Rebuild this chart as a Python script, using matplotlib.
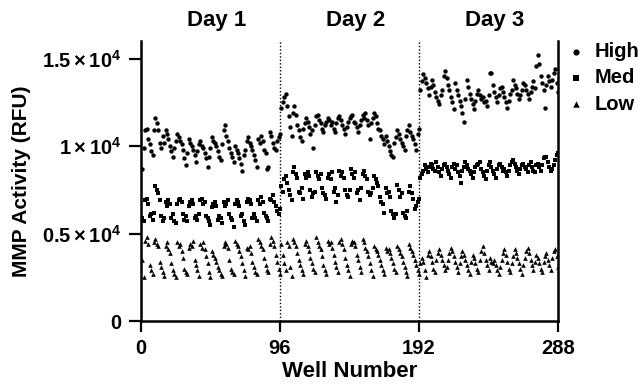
import numpy as np
import matplotlib
matplotlib.use("Agg")
import matplotlib.pyplot as plt
from matplotlib.transforms import blended_transform_factory

# MMP activity (RFU) per well, one list per series per day
high_day1 = [8700, 9900, 10900, 11000, 10400, 10100, 9700, 9500,
             10900, 11600, 11300, 10900, 10200, 9900, 10600, 10200,
             10900, 10700, 10400, 10000, 9700, 9400, 9900, 10300,
             10700, 10500, 10300, 10100, 9800, 9300, 8900, 9600,
             10400, 10200, 10000, 9800, 9500, 9100, 9700, 10100,
             10300, 10000, 9900, 9600, 9300, 8800, 9400, 9900,
             10500, 10300, 10200, 10000, 9700, 9400, 9200, 10100,
             10900, 11200, 10600, 10300, 9900, 9600, 9400, 9100,
             10000, 9800, 9600, 9300, 9000, 8600, 9500, 9800,
             10300, 10500, 10200, 10000, 9800, 9500, 9200, 8800,
             10400, 10200, 10600, 10300, 9800, 9600, 8700, 8800,
             10800, 10600, 10200, 9900, 9800, 10300, 10500, 10700]
high_day2 = [12200, 12500, 12800, 13000, 12300, 11700, 11100, 10600,
             11900, 12300, 11800, 11200, 10900, 10500, 10300, 11000,
             11300, 11600, 11400, 11100, 10700, 10900, 9900, 11200,
             11700, 11800, 11500, 11300, 11000, 10800, 11200, 11400,
             11600, 11500, 11200, 11400, 11000, 10800, 11300, 11600,
             11700, 11500, 11200, 11000, 10700, 11100, 11400, 11600,
             11700, 11800, 11400, 11300, 11100, 10800, 11200, 11500,
             11800, 11600, 11900, 11500, 11200, 10400, 11300, 11600,
             11900, 11700, 11300, 11000, 10900, 10600, 10400, 10100,
             10600, 10300, 10000, 9700, 9500, 9400, 10200, 10500,
             10900, 10700, 10400, 10200, 10000, 9800, 10600, 10900,
             11200, 10800, 10600, 10400, 10100, 9800, 10700, 11000]
high_day3 = [13200, 13700, 14100, 13900, 13600, 13300, 12900, 13400,
             13800, 13500, 13100, 12800, 12600, 12400, 12900, 13200,
             14000, 14300, 13900, 13500, 13200, 12800, 12500, 12100,
             13600, 13200, 12900, 12600, 12300, 11900, 11400, 12700,
             13800, 13400, 13000, 12700, 12400, 12100, 12600, 13000,
             13200, 12900, 12700, 12800, 12500, 12600, 12300, 12900,
             14200, 14200, 13500, 13100, 12800, 12500, 12900, 13300,
             13400, 13100, 12800, 12500, 12200, 12600, 13000, 13200,
             13800, 13500, 13300, 13000, 12700, 12900, 13200, 13600,
             13500, 13200, 13000, 12700, 13100, 13400, 13700, 13300,
             14600, 15200, 14700, 14000, 13600, 13200, 12200, 13500,
             14000, 13700, 13400, 13800, 14200, 14400, 13600, 13100]

med_day1 = [5900, 5700, 6900, 7000, 6700, 6000, 6100, 5800,
            6200, 7700, 7500, 7300, 6900, 6000, 5700, 5900,
            6800, 6600, 6900, 6700, 5900, 6100, 5700, 5600,
            6700, 6900, 7000, 6800, 6100, 5800, 6000, 5700,
            6600, 6800, 6900, 6700, 5900, 6000, 5800, 6100,
            6900, 7000, 6700, 6800, 6000, 5900, 5700, 5500,
            6500, 6700, 6800, 6600, 5800, 6000, 5900, 5600,
            6800, 6600, 6700, 6900, 6100, 5900, 5800, 5400,
            6700, 6900, 6800, 6600, 6000, 6100, 5700, 5500,
            6800, 7000, 6900, 6700, 5900, 6100, 5900, 5700,
            6900, 6700, 7100, 6800, 6200, 6000, 5900, 5700,
            7000, 6900, 7200, 6800, 6600, 6300, 6100, 6400]
med_day2 = [7700, 7400, 8100, 8300, 7900, 7500, 7200, 6900,
            8500, 8800, 8400, 8200, 7400, 7300, 7600, 7000,
            8400, 8200, 8500, 8300, 7500, 7100, 7300, 7400,
            8500, 8300, 8100, 8400, 7600, 7300, 7200, 7000,
            8200, 8400, 8100, 8500, 7400, 7600, 6800, 7200,
            8600, 8300, 8500, 8200, 7500, 7200, 7100, 7500,
            8700, 8400, 8200, 8500, 7300, 7500, 6900, 7600,
            8400, 8600, 8300, 8100, 7400, 7200, 7300, 7600,
            8300, 8100, 7900, 7700, 7100, 6800, 6700, 6200,
            7600, 7300, 7400, 7100, 6300, 6100, 5900, 6100,
            7800, 7500, 7100, 7300, 6200, 6000, 5900, 6300,
            7400, 7700, 7300, 7000, 6400, 6600, 6800, 7000]
med_day3 = [8200, 8400, 8600, 8900, 8700, 8500, 8800, 9000,
            8900, 8700, 8600, 9100, 8800, 8500, 8300, 8700,
            8900, 9000, 8800, 8600, 8400, 8200, 8800, 9000,
            8700, 8900, 8500, 8300, 7900, 8600, 8800, 9100,
            8900, 8700, 8600, 8400, 8200, 8500, 8800, 8900,
            9000, 9100, 8700, 8500, 8300, 8100, 8600, 8900,
            9100, 8800, 8600, 8400, 8200, 8700, 8900, 9000,
            8800, 8600, 8700, 8500, 8300, 8600, 8900, 9100,
            9200, 9000, 8800, 8600, 8400, 8700, 8900, 9000,
            8800, 8700, 8500, 8900, 9100, 8800, 8600, 8500,
            8900, 9000, 8800, 8600, 8900, 9300, 9400, 9400,
            9100, 8800, 8600, 8700, 8900, 9200, 9500, 9600]

low_day1 = [3500, 2500, 4600, 4800, 4400, 3200, 2900, 2700,
            4500, 4700, 4400, 4300, 3400, 3100, 2800, 2600,
            4300, 4500, 4100, 3900, 3300, 2900, 2700, 2500,
            4500, 4300, 4400, 4000, 3600, 3000, 2800, 2700,
            4200, 4400, 4300, 4600, 3500, 3200, 2900, 2600,
            4400, 4200, 4500, 4100, 3700, 3300, 2800, 2500,
            4000, 3800, 3600, 3400, 3100, 2900, 2700, 2600,
            4300, 4500, 4400, 4200, 3500, 3000, 2800, 2700,
            4600, 4400, 4300, 4000, 3700, 3300, 2900, 2600,
            4200, 4100, 4300, 3900, 3400, 3100, 2800, 2700,
            4700, 4500, 4300, 4100, 3600, 3200, 2900, 2800,
            4400, 4800, 4600, 4300, 3800, 3400, 3000, 2700]
low_day2 = [4400, 3800, 3300, 2900, 4500, 4300, 3100, 2600,
            4700, 4500, 4300, 3900, 3500, 3200, 2900, 2700,
            4400, 4600, 4300, 4000, 3600, 3300, 3000, 2800,
            4800, 4500, 4300, 4100, 3700, 3200, 2900, 2700,
            4600, 4400, 4500, 4200, 3800, 3400, 3100, 2800,
            4500, 4700, 4400, 4100, 3600, 3200, 2900, 2600,
            4400, 4600, 4500, 4300, 3800, 3500, 3100, 2800,
            4700, 4500, 4200, 4000, 3700, 3300, 2900, 2600,
            4300, 4100, 4000, 3800, 3500, 3200, 2900, 2700,
            4200, 4000, 4100, 3900, 3600, 3300, 3000, 2800,
            4300, 4100, 3900, 3700, 3400, 3100, 2800, 2600,
            4400, 4200, 4000, 3800, 3500, 3200, 2900, 2700]
low_day3 = [3300, 3600, 3400, 2900, 2500, 3800, 4000, 3700,
            3400, 3000, 2800, 3500, 3900, 4100, 3800, 3500,
            3200, 2900, 3100, 3500, 3900, 4200, 4000, 3700,
            3400, 3100, 2800, 3300, 3700, 4000, 3800, 3500,
            3200, 2900, 2700, 3400, 3800, 3600, 3300, 3000,
            2800, 3500, 4000, 4300, 3900, 3500, 3200, 2900,
            3600, 3400, 3300, 3500, 3200, 2900, 2700, 3100,
            3500, 3900, 4100, 3800, 3400, 3000, 2800, 3300,
            3700, 4100, 3900, 3600, 3300, 3000, 2700, 3200,
            3600, 4000, 4200, 3900, 3500, 3200, 2900, 3400,
            3800, 3600, 3300, 3000, 2800, 3400, 3700, 3900,
            3500, 3200, 2900, 3600, 4000, 4100, 3700, 3100]

day_labels = ["Day 1", "Day 2", "Day 3"]
day_edges = [0, 96, 192, 288]
x_ticks = [0, 96, 192, 288]
y_ticks = [0, 5000, 10000, 15000]
y_tick_labels = ["0", r"$0.5\times10^4$", r"$1\times10^4$", r"$1.5\times10^4$"]

plt.rcParams["font.family"] = ["Liberation Sans", "DejaVu Sans"]
plt.rcParams["font.weight"] = "bold"
plt.rcParams["mathtext.fontset"] = "custom"
plt.rcParams["mathtext.rm"] = "Liberation Sans:bold"
plt.rcParams["mathtext.it"] = "Liberation Sans:bold"
plt.rcParams["mathtext.bf"] = "Liberation Sans:bold"


def main():
    high = high_day1 + high_day2 + high_day3
    med = med_day1 + med_day2 + med_day3
    low = low_day1 + low_day2 + low_day3
    wells = np.arange(1, len(high) + 1)

    fig = plt.figure(figsize=(6.42, 3.85), dpi=100)
    ax = fig.add_axes([0.2196, 0.1662, 0.6496, 0.7273])

    ax.scatter(wells, high, marker="o", s=10, color="black", linewidths=0, label="High")
    ax.scatter(wells, med, marker="s", s=9, color="black", linewidths=0, label="Med")
    ax.scatter(wells, low, marker="^", s=11, color="black", linewidths=0, label="Low")

    # dotted separators between days
    for edge in day_edges[1:-1]:
        ax.axvline(edge, color="black", linestyle=(0, (1, 1.5)), linewidth=1.0)

    ax.set_xlim(0, 288)
    ax.set_ylim(0, 16000)
    ax.set_xticks(x_ticks)
    ax.set_yticks(y_ticks)
    ax.set_yticklabels(y_tick_labels)
    ax.tick_params(axis="both", labelsize=14.5, width=1.6, length=8, pad=5)
    ax.tick_params(axis="y", length=9)

    for side in ["left", "bottom", "right"]:
        ax.spines[side].set_linewidth(1.8)
    ax.spines["top"].set_visible(False)

    ax.set_xlabel("Well Number", fontsize=16, fontweight="bold", labelpad=2)
    ax.set_ylabel("MMP Activity (RFU)", fontsize=15, fontweight="bold", labelpad=8)

    trans = blended_transform_factory(ax.transData, ax.transAxes)
    for i, label in enumerate(day_labels):
        mid = (day_edges[i] + day_edges[i + 1]) / 2
        ax.text(mid + 4, 1.075, label, transform=trans, ha="center", va="center",
                fontsize=16, fontweight="bold")

    ax.legend(loc="upper left", bbox_to_anchor=(1.0, 1.025), frameon=False,
              fontsize=14.5, markerscale=1.4, handletextpad=0.4,
              labelspacing=0.36, handlelength=1.0, borderaxespad=0.0)

    fig.savefig("out.png", dpi=100)


if __name__ == "__main__":
    main()
